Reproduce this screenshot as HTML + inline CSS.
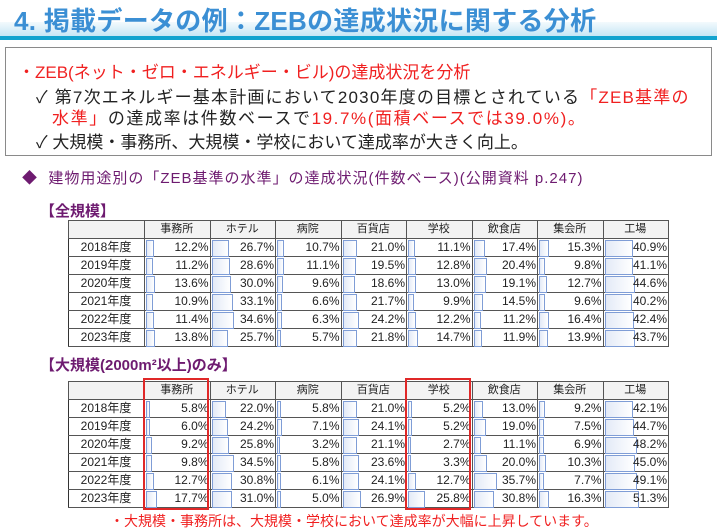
<!DOCTYPE html>
<html><head><meta charset="utf-8"><style>
body{margin:0;width:717px;height:515px;overflow:hidden;background:#fff;font-family:"Liberation Sans","Noto Sans CJK JP",sans-serif;position:relative}
.a{position:absolute;white-space:nowrap}
.title{left:14px;top:1px;font-size:26px;font-weight:bold;color:#3b8fd4;letter-spacing:0.3px;z-index:2}
.band{left:0;top:22px;width:717px;height:14px;background:linear-gradient(#f3fafd,#c6e6f5)}
.line{left:0;top:36px;width:717px;height:4px;background:#12a3cf}
.box{left:5px;top:47px;width:705px;height:107px;border:1px solid #8a8a8a}
.t{font-size:17px;color:#222}
.r{color:#f02020}
.pur{color:#6e1b70}
table{position:absolute;left:68px;border-collapse:collapse;table-layout:fixed;font-size:12px;color:#222}
td{border:1px solid #555;height:17px;padding:0 1px 0 0;text-align:right;position:relative;line-height:17px}
tr.h td{background:#f3f3f3;text-align:center;font-size:11px}
td.l{text-align:center;border-left:1.5px solid #333}
td b{position:absolute;left:1px;top:1px;height:15px;border:1px solid #7f9dd6;background:linear-gradient(90deg,#e3eaf7,#fff);font-weight:normal}
td span{position:relative}
.rb{position:absolute;border:2px solid #e02828;width:62px;top:378px;height:128px}
</style></head><body>
<div class="a band"></div><div class="a line"></div>
<div class="a title">4. 掲載データの例：ZEBの達成状況に関する分析</div>
<div class="a box"></div>
<div class="a t r" style="left:18px;top:58px">・ZEB(ネット・ゼロ・エネルギー・ビル)の達成状況を分析</div>
<div class="a t" style="left:36px;top:83px;letter-spacing:1.2px">✓ 第7次エネルギー基本計画において2030年度の目標とされている<span class="r">「ZEB基準の</span></div>
<div class="a t r" style="left:52px;top:104px;letter-spacing:1.6px">水準」<span style="color:#222">の達成率は件数ベースで</span>19.7%(面積ベースでは39.0%)。</div>
<div class="a t" style="left:36px;top:128px">✓ 大規模・事務所、大規模・学校において達成率が大きく向上。</div>
<div class="a pur" style="left:22px;top:167px;font-size:15px;letter-spacing:1px">◆&nbsp; 建物用途別の「ZEB基準の水準」の達成状況(件数ベース)(公開資料 p.247)</div>
<div class="a pur" style="left:40px;top:200px;font-size:15px;font-weight:bold">【全規模】</div>
<div class="a pur" style="left:40px;top:354px;font-size:15px;font-weight:bold">【大規模(2000m²以上)のみ】</div>

<table style="top:220px;width:600px">
<colgroup><col style="width:76px"><col span="8" style="width:65.5px"></colgroup>
<tr class="h"><td></td><td>事務所</td><td>ホテル</td><td>病院</td><td>百貨店</td><td>学校</td><td>飲食店</td><td>集会所</td><td>工場</td></tr>
<tr><td class="l">2018年度</td><td><b style="width:6px"></b><span>12.2%</span></td><td><b style="width:15px"></b><span>26.7%</span></td><td><b style="width:5px"></b><span>10.7%</span></td><td><b style="width:12px"></b><span>21.0%</span></td><td><b style="width:5px"></b><span>11.1%</span></td><td><b style="width:9px"></b><span>17.4%</span></td><td><b style="width:8px"></b><span>15.3%</span></td><td><b style="width:26px"></b><span>40.9%</span></td></tr>
<tr><td class="l">2019年度</td><td><b style="width:5px"></b><span>11.2%</span></td><td><b style="width:16px"></b><span>28.6%</span></td><td><b style="width:5px"></b><span>11.1%</span></td><td><b style="width:11px"></b><span>19.5%</span></td><td><b style="width:6px"></b><span>12.8%</span></td><td><b style="width:11px"></b><span>20.4%</span></td><td><b style="width:4px"></b><span>9.8%</span></td><td><b style="width:26px"></b><span>41.1%</span></td></tr>
<tr><td class="l">2020年度</td><td><b style="width:7px"></b><span>13.6%</span></td><td><b style="width:17px"></b><span>30.0%</span></td><td><b style="width:4px"></b><span>9.6%</span></td><td><b style="width:10px"></b><span>18.6%</span></td><td><b style="width:6px"></b><span>13.0%</span></td><td><b style="width:10px"></b><span>19.1%</span></td><td><b style="width:6px"></b><span>12.7%</span></td><td><b style="width:28px"></b><span>44.6%</span></td></tr>
<tr><td class="l">2021年度</td><td><b style="width:5px"></b><span>10.9%</span></td><td><b style="width:19px"></b><span>33.1%</span></td><td><b style="width:3px"></b><span>6.6%</span></td><td><b style="width:12px"></b><span>21.7%</span></td><td><b style="width:4px"></b><span>9.9%</span></td><td><b style="width:7px"></b><span>14.5%</span></td><td><b style="width:4px"></b><span>9.6%</span></td><td><b style="width:25px"></b><span>40.2%</span></td></tr>
<tr><td class="l">2022年度</td><td><b style="width:6px"></b><span>11.4%</span></td><td><b style="width:20px"></b><span>34.6%</span></td><td><b style="width:3px"></b><span>6.3%</span></td><td><b style="width:14px"></b><span>24.2%</span></td><td><b style="width:6px"></b><span>12.2%</span></td><td><b style="width:5px"></b><span>11.2%</span></td><td><b style="width:8px"></b><span>16.4%</span></td><td><b style="width:27px"></b><span>42.4%</span></td></tr>
<tr><td class="l">2023年度</td><td><b style="width:7px"></b><span>13.8%</span></td><td><b style="width:14px"></b><span>25.7%</span></td><td><b style="width:2px"></b><span>5.7%</span></td><td><b style="width:12px"></b><span>21.8%</span></td><td><b style="width:8px"></b><span>14.7%</span></td><td><b style="width:6px"></b><span>11.9%</span></td><td><b style="width:7px"></b><span>13.9%</span></td><td><b style="width:28px"></b><span>43.7%</span></td></tr>
</table>

<table style="top:381px;width:600px">
<colgroup><col style="width:76px"><col span="8" style="width:65.5px"></colgroup>
<tr class="h"><td></td><td>事務所</td><td>ホテル</td><td>病院</td><td>百貨店</td><td>学校</td><td>飲食店</td><td>集会所</td><td>工場</td></tr>
<tr><td class="l">2018年度</td><td><b style="width:2px"></b><span>5.8%</span></td><td><b style="width:12px"></b><span>22.0%</span></td><td><b style="width:2px"></b><span>5.8%</span></td><td><b style="width:12px"></b><span>21.0%</span></td><td><b style="width:2px"></b><span>5.2%</span></td><td><b style="width:7px"></b><span>13.0%</span></td><td><b style="width:4px"></b><span>9.2%</span></td><td><b style="width:26px"></b><span>42.1%</span></td></tr>
<tr><td class="l">2019年度</td><td><b style="width:2px"></b><span>6.0%</span></td><td><b style="width:14px"></b><span>24.2%</span></td><td><b style="width:3px"></b><span>7.1%</span></td><td><b style="width:14px"></b><span>24.1%</span></td><td><b style="width:2px"></b><span>5.2%</span></td><td><b style="width:10px"></b><span>19.0%</span></td><td><b style="width:3px"></b><span>7.5%</span></td><td><b style="width:27px"></b><span>44.7%</span></td></tr>
<tr><td class="l">2020年度</td><td><b style="width:4px"></b><span>9.2%</span></td><td><b style="width:15px"></b><span>25.8%</span></td><td><b style="width:1px"></b><span>3.2%</span></td><td><b style="width:12px"></b><span>21.1%</span></td><td><b style="width:1px"></b><span>2.7%</span></td><td><b style="width:5px"></b><span>11.1%</span></td><td><b style="width:3px"></b><span>6.9%</span></td><td><b style="width:30px"></b><span>48.2%</span></td></tr>
<tr><td class="l">2021年度</td><td><b style="width:4px"></b><span>9.8%</span></td><td><b style="width:20px"></b><span>34.5%</span></td><td><b style="width:2px"></b><span>5.8%</span></td><td><b style="width:14px"></b><span>23.6%</span></td><td><b style="width:1px"></b><span>3.3%</span></td><td><b style="width:11px"></b><span>20.0%</span></td><td><b style="width:5px"></b><span>10.3%</span></td><td><b style="width:28px"></b><span>45.0%</span></td></tr>
<tr><td class="l">2022年度</td><td><b style="width:6px"></b><span>12.7%</span></td><td><b style="width:18px"></b><span>30.8%</span></td><td><b style="width:2px"></b><span>6.1%</span></td><td><b style="width:14px"></b><span>24.1%</span></td><td><b style="width:6px"></b><span>12.7%</span></td><td><b style="width:21px"></b><span>35.7%</span></td><td><b style="width:3px"></b><span>7.7%</span></td><td><b style="width:30px"></b><span>49.1%</span></td></tr>
<tr><td class="l">2023年度</td><td><b style="width:9px"></b><span>17.7%</span></td><td><b style="width:18px"></b><span>31.0%</span></td><td><b style="width:2px"></b><span>5.0%</span></td><td><b style="width:16px"></b><span>26.9%</span></td><td><b style="width:15px"></b><span>25.8%</span></td><td><b style="width:18px"></b><span>30.8%</span></td><td><b style="width:8px"></b><span>16.3%</span></td><td><b style="width:32px"></b><span>51.3%</span></td></tr>
</table>
<div class="rb" style="left:143px"></div>
<div class="rb" style="left:405px"></div>
<div class="a r" style="left:110px;top:511px;font-size:14px">・大規模・事務所は、大規模・学校において達成率が大幅に上昇しています。</div>
</body></html>
